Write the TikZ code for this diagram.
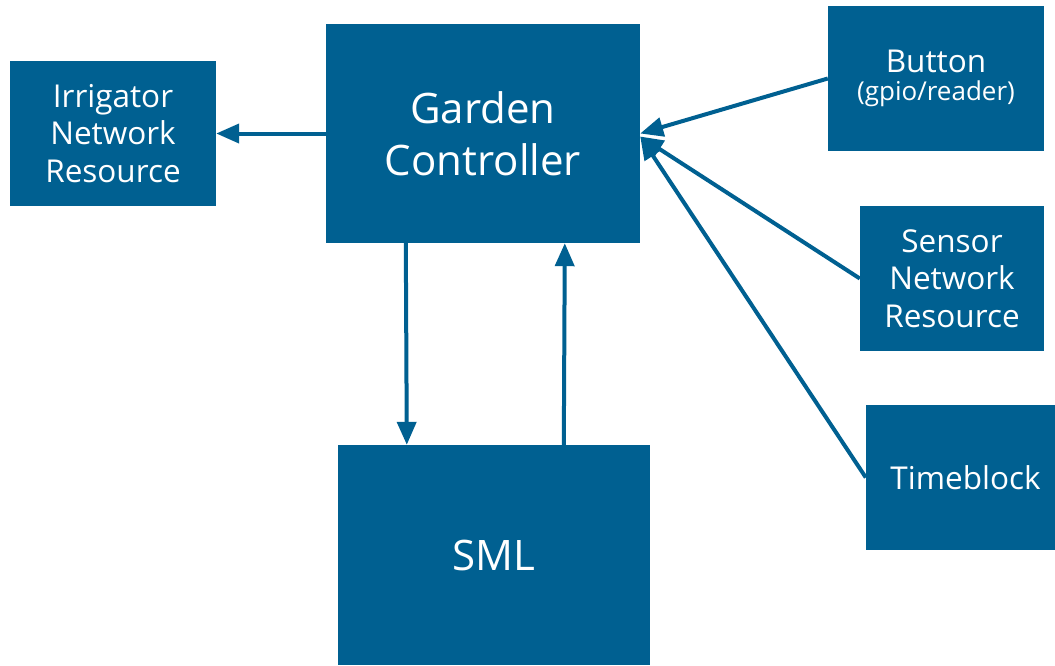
\documentclass[tikz,border=0pt]{standalone}
\usepackage{fontspec}
\setmainfont{Open Sans}
\usetikzlibrary{shapes,arrows.meta}
\definecolor{boxblue}{RGB}{0,96,145}

\begin{document}
\begin{tikzpicture}[x=1pt,y=-1pt]
    % Frame of the picture, so the margins stay as in the original:
    \useasboundingbox (0,0) rectangle (1055,665);
    \tikzset{
        block/.style={fill=boxblue, text=white, inner sep=0pt, align=center,
                      font=\fontsize{31.5}{37.5}\selectfont},
        bigblock/.style={block, font=\fontsize{42}{52}\selectfont},
        flow/.style={draw=boxblue, line width=4pt, -{Triangle[length=23pt,width=19pt]}}
    }
    % Blocks:
    % Placed at the centres of the boxes, sizes given with minimum width/height
    \node [bigblock, minimum width=314, minimum height=219] (gc)  at (483,133.5) {Garden\\Controller};
    \node [bigblock, minimum width=312, minimum height=220] (sml) at (494,555)   {SML};
    \node [block, minimum width=206, minimum height=145] (irr) at (113,133.5) {Irrigator\\Network\\Resource};
    \node [block, minimum width=216, minimum height=145] (btn) at (936,78.5)  {\raisebox{-5pt}{Button}\\[-4pt]{\fontsize{26}{30}\selectfont (gpio/reader)}};
    \node [block, minimum width=184, minimum height=145] (sns) at (952,278.5) {Sensor\\Network\\Resource};
    \node [block, minimum width=189, minimum height=145] (tb)  at (960.5,477.5) {\hspace*{10pt}Timeblock};

    % Connectors:
    \draw [flow] (gc.west) -- (irr.east);
    \draw [flow] ([xshift=80pt]gc.south west) -- ([xshift=69pt]sml.north west);
    \draw [flow] ([xshift=226pt]sml.north west) -- ([xshift=239pt]gc.south west);
    % the three inputs meet at the right side of the controller
    \draw [flow] (btn.west) -- (gc.east);
    \foreach \src in {sns,tb}{%
        \draw [flow] (\src.west) -- ([yshift=-3pt]gc.east);}
\end{tikzpicture}
\end{document}
